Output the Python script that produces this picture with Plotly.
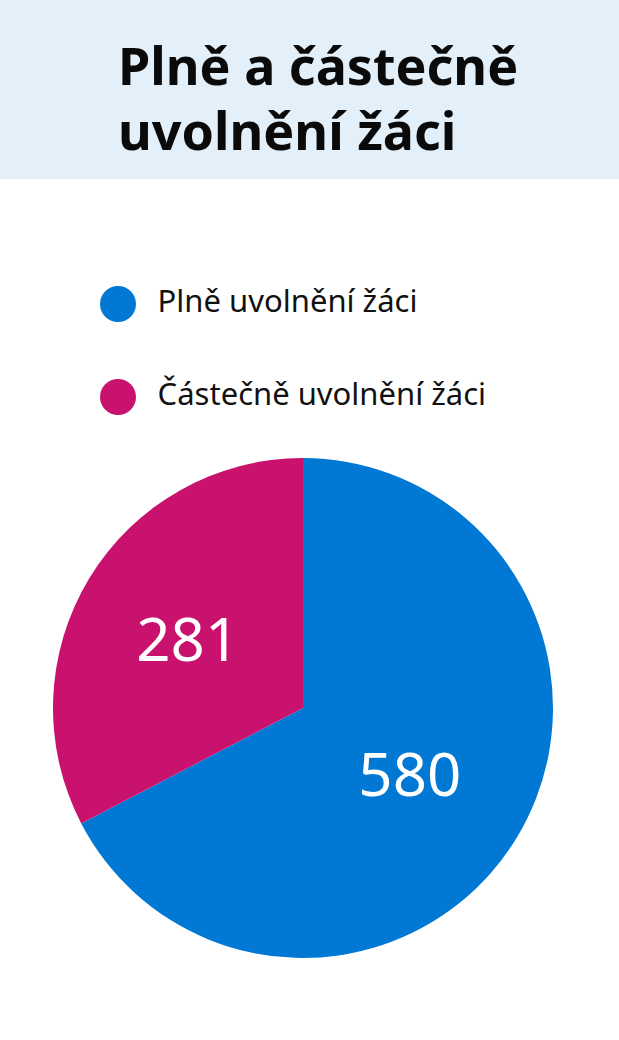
import plotly.graph_objects as go

categories = ["Plně uvolnění žáci", "Částečně uvolnění žáci"]
values = [580, 281]
colors = ["#0078D4", "#C8126E"]
title_lines = ["Plně a částečně", "uvolnění žáci"]

W, H = 619, 1040

fig = go.Figure()

fig.add_trace(go.Pie(
    labels=categories,
    values=values,
    marker=dict(colors=colors, line=dict(width=0)),
    sort=False,
    direction="clockwise",
    rotation=0,
    textinfo="value",
    textposition="inside",
    insidetextorientation="horizontal",
    textfont=dict(family="Noto Sans", size=60, color="white"),
    showlegend=False,
    hoverinfo="label+value",
    domain=dict(x=[53 / W, 553 / W], y=[82 / H, 582 / H]),
))

# custom legend with large circular markers
fig.add_trace(go.Scatter(
    x=[0] * len(categories),
    y=list(range(len(categories))),
    mode="markers+text",
    marker=dict(size=36, color=colors, symbol="circle"),
    text=["  " + c for c in categories],
    textposition="middle right",
    textfont=dict(family="Noto Sans", size=31, color="#111111"),
    cliponaxis=False,
    showlegend=False,
    hoverinfo="skip",
))

fig.update_xaxes(range=[-0.5, 0.5], domain=[68 / W, 168 / W], visible=False, fixedrange=True)
fig.update_yaxes(range=[1.5, -0.5], domain=[1 - 443.5 / H, 1 - 257.5 / H], visible=False, fixedrange=True)

fig.add_shape(type="rect", xref="paper", yref="paper", x0=0, x1=1, y0=1 - 179 / H, y1=1,
              fillcolor="#E3EFF9", line=dict(width=0), layer="below")

for i, line in enumerate(title_lines):
    fig.add_annotation(
        text=line, xref="paper", yref="paper", x=116 / W, y=1 - (27 + 65 * i) / H,
        xanchor="left", yanchor="top", align="left", showarrow=False,
        font=dict(family="Noto Sans", size=52, color="#0a0a0a", weight="bold"),
    )

fig.update_layout(
    width=W, height=H,
    margin=dict(l=0, r=0, t=0, b=0),
    paper_bgcolor="white", plot_bgcolor="rgba(0,0,0,0)",
)

fig.write_html("out.html", config={"displayModeBar": False},
               post_script="document.body.style.margin='0';")
